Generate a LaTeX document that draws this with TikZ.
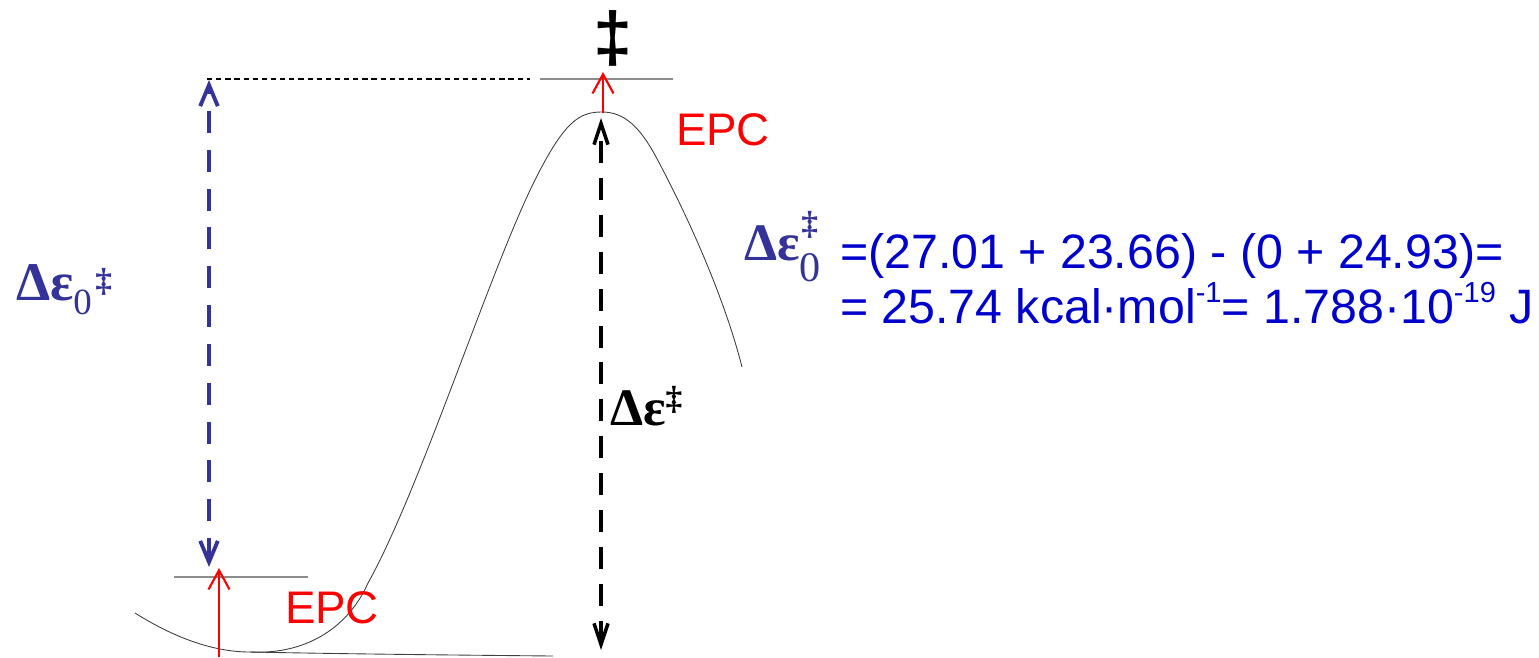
\documentclass[tikz,border=0pt]{standalone}
\usepackage{fontspec}
\setmainfont{Liberation Sans}
\newfontfamily\serifb{Liberation Serif}
\newfontfamily\sansb{Liberation Sans}
\usetikzlibrary{arrows.meta}
\definecolor{dblue}{RGB}{51,51,153}
\definecolor{eqblue}{RGB}{0,0,204}
\definecolor{epcred}{RGB}{255,0,0}
\begin{document}
\begin{tikzpicture}[x=0.02cm,y=-0.02cm,
  txt/.style={anchor=base west,inner sep=0pt,outer sep=0pt},
  epc/.style={txt,text=epcred,font=\fontsize{26}{30}\selectfont},
  eqtext/.style={txt,text=eqblue,font=\fontsize{27.5}{33}\selectfont},
  greek/.style={txt,font=\serifb\bfseries\fontsize{31}{36}\selectfont},
  level/.style={draw=black!45,line width=0.6pt},
  curve/.style={draw=black!75,line width=0.5pt},
  bluearrow/.style={draw=dblue,line width=2.2pt,dash pattern=on 12.5pt off 9.6pt,
    {Straight Barb[length=12pt,width=10pt]}-{Straight Barb[length=12pt,width=10pt]}},
  blackarrow/.style={draw=black,line width=2pt,dash pattern=on 12.5pt off 8.5pt,
    {Straight Barb[length=12pt,width=8pt]}-{Straight Barb[length=12pt,width=8pt]}},
  redarrow/.style={draw=epcred,line width=1.2pt,-{Straight Barb[length=11pt,width=12pt]}},
  guide/.style={draw=black,line width=0.6pt,dash pattern=on 3pt off 2.2pt}
]
\useasboundingbox (0,0) rectangle (1539,657);

% coordinates
\coordinate (tA) at (207,79);
\coordinate (tB) at (530,79);
\coordinate (gA) at (540,79);
\coordinate (gB) at (673,79);
\coordinate (lgA) at (174,577);
\coordinate (lgB) at (308,577);
\coordinate (bT) at (209,80);
\coordinate (bB) at (209,567);
\coordinate (kT) at (601,118);
\coordinate (kB) at (601,650);
\coordinate (rT0) at (603,113);
\coordinate (rT1) at (603,72);
\coordinate (rB0) at (219,657);
\coordinate (rB1) at (219,568);
\coordinate (wl) at (250,652);
\coordinate (wr) at (553,656);
\coordinate (peak) at (602,112);

% energy curve
\draw[curve] (135,613) .. controls (170,635) and (210,652) .. (wl)
  .. controls (310,655) and (350,624) .. (368,583)
  .. controls (420,490) and (490,270) .. (535,180)
  .. controls (565,120) and (580,112) .. (peak)
  .. controls (625,112) and (640,128) .. (655,155)
  .. controls (690,220) and (725,300) .. (742,367);
\draw[curve] (wl) .. controls (350,654) and (450,655) .. (wr);

% levels
\draw[guide] (tA) -- (tB);
\draw[level] (gA) -- (gB);
\draw[level] (lgA) -- (lgB);

% arrows
\draw[bluearrow] (bB) -- (bT);
\draw[blackarrow] (kB) -- (kT);
\draw[redarrow] (rT0) -- (rT1);
\draw[redarrow] (rB0) -- (rB1);

% labels
\node[txt,font=\sansb\bfseries\fontsize{40}{44}\selectfont,anchor=center] (dag) at (613,38) {‡};
\node[epc] (epc1) at (676,145) {EPC};
\node[epc] (epc2) at (285,623) {EPC};
\node[greek,text=dblue] (lbl) at (16,300) {Δε\raisebox{-8.5pt}{\fontsize{21}{22}\selectfont\mdseries 0}\kern2pt\raisebox{5pt}{\fontsize{19}{20}\selectfont ‡}};
\node[greek,text=black,font=\serifb\bfseries\fontsize{30}{36}\selectfont] (de) at (610,425) {Δε\raisebox{9pt}{\fontsize{19}{20}\selectfont ‡}};
\node[greek,text=dblue,font=\serifb\bfseries\fontsize{30}{36}\selectfont] (eqlbl) at (744,260) {Δε\raisebox{-12.5pt}{\rlap{\fontsize{24}{24}\selectfont\mdseries 0}}\kern1pt\raisebox{14.5pt}{\fontsize{19}{20}\selectfont ‡}};
\node[eqtext] (eq1) at (840,268) {=(27.01 + 23.66) - (0 + 24.93)=};
\node[eqtext] (eq2) at (840,323) {= 25.74 kcal·mol\raisebox{0.42em}{\fontsize{16.5}{17}\selectfont -1}= 1.788·10\raisebox{0.42em}{\fontsize{16.5}{17}\selectfont -19} J};
\end{tikzpicture}
\end{document}
